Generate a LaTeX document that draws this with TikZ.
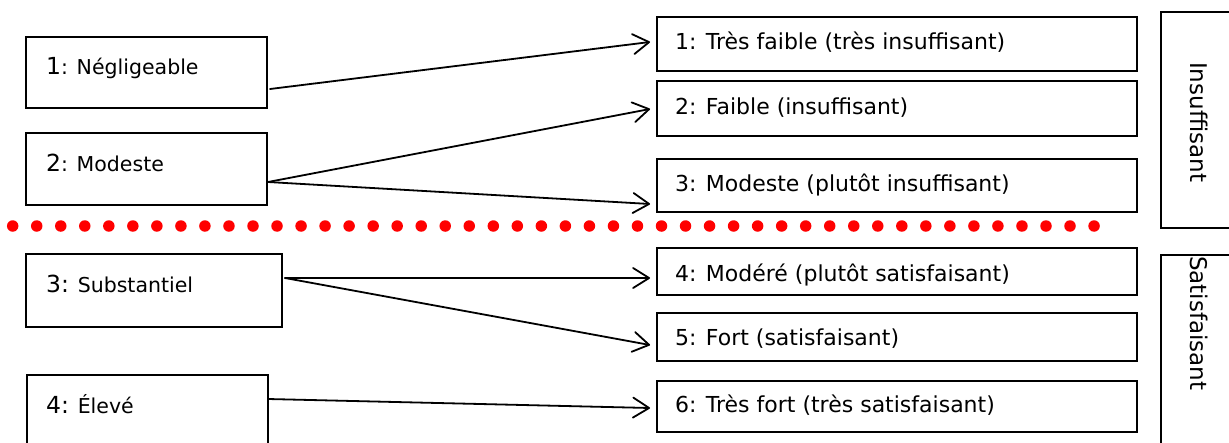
\documentclass[tikz,border=0pt]{standalone}
\usepackage{fontspec}
\setmainfont{DejaVu Sans}
\usetikzlibrary{arrows.meta,calc}

\begin{document}
\begin{tikzpicture}[x=1pt,y=-1pt,
  box/.style={draw=black, line width=2pt, rectangle, inner sep=0pt, outer sep=0pt},
  ltxt/.style={inner sep=0pt, anchor=base west, font=\fontsize{20.5}{24}\selectfont},
  rtxt/.style={inner sep=0pt, anchor=base west, font=\fontsize{22}{26}\selectfont},
  vtxt/.style={inner sep=0pt, anchor=base west, rotate=-90, font=\fontsize{23}{28}\selectfont},
  link/.style={line width=1.8pt, line cap=round,
    -{Straight Barb[length=16pt,width=20pt,line width=1.8pt,round]}},
  dot/.style={circle, fill=red, inner sep=0pt, minimum size=11.5pt}]

\newcommand\bignum[1]{{\fontsize{23.5}{28}\selectfont #1}}

\useasboundingbox (0,0) rectangle (1229,442);
\begin{scope}
\clip (0,0) rectangle (1229,442);

% input levels (left column)
\node[box, minimum width=241pt, minimum height=71pt] (L1) at (146.5,72.5) {};
\node[box, minimum width=241pt, minimum height=72pt] (L2) at (146.5,169) {};
\node[box, minimum width=256pt, minimum height=73pt] (L3) at (154,290.5) {};
\node[box, minimum width=241pt, minimum height=72pt] (L4) at (147.5,411) {};

\node[ltxt] (L1t) at ($(L1.north west)+(20,37)$) {\bignum{1}: Négligeable};
\node[ltxt] (L2t) at ($(L2.north west)+(20,38)$) {\bignum{2}: Modeste};
\node[ltxt] (L3t) at ($(L3.north west)+(20,38)$) {\bignum{3:} Substantiel};
\node[ltxt] (L4t) at ($(L4.north west)+(19,38)$) {\bignum{4:} Élevé};

% rating scale (right column)
\node[box, minimum width=480pt, minimum height=54pt] (R1) at (897,44) {};
\node[box, minimum width=480pt, minimum height=55pt] (R2) at (897,108.5) {};
\node[box, minimum width=480pt, minimum height=53pt] (R3) at (897,185.5) {};
\node[box, minimum width=480pt, minimum height=47pt] (R4) at (897,271.5) {};
\node[box, minimum width=480pt, minimum height=48pt] (R5) at (897,337) {};
\node[box, minimum width=480pt, minimum height=51pt] (R6) at (897,406.5) {};

\node[rtxt] (R1t) at ($(R1.north west)+(18,32)$) {1: Très faible (très insuffisant)};
\node[rtxt] (R2t) at ($(R2.north west)+(18,33)$) {2: Faible (insuffisant)};
\node[rtxt] (R3t) at ($(R3.north west)+(18,32)$) {3: Modeste (plutôt insuffisant)};
\node[rtxt] (R4t) at ($(R4.north west)+(18,33)$) {4: Modéré (plutôt satisfaisant)};
\node[rtxt] (R5t) at ($(R5.north west)+(18,32)$) {5: Fort (satisfaisant)};
\node[rtxt] (R6t) at ($(R6.north west)+(18,31)$) {6: Très fort (très satisfaisant)};

% overall verdict boxes
\node[box, minimum width=79pt, minimum height=216pt] (G1) at (1200.5,120) {};
\node[box, minimum width=79pt, minimum height=215pt] (G2) at (1200.5,362.5) {};
\node[vtxt] (G1t) at (1190,62) {Insuffisant};
\node[vtxt] (G2t) at (1190,256) {Satisfaisant};

% connectors
\draw[link] ($(L1.east)+(3,16.5)$) -- ($(R1.west)+(-7,-2)$);
\draw[link] ($(L2.east)+(1,13)$) -- ($(R2.west)+(-7,0.5)$);
\draw[link] ($(L2.east)+(1,13)$) -- ($(R3.west)+(-7,18.5)$);
\draw[link] ($(L3.east)+(3,-12.5)$) -- ($(R4.west)+(-7,6.5)$);
\draw[link] ($(L3.east)+(3,-12.5)$) -- ($(R5.west)+(-7,8)$);
\draw[link] ($(L4.east)+(0,-12)$) -- ($(R6.west)+(-7,1.5)$);

% dotted separator
\foreach \i in {0,...,45}
  \node[dot] (d\i) at (12.7+24.03*\i,226) {};
\end{scope}
\end{tikzpicture}
\end{document}
